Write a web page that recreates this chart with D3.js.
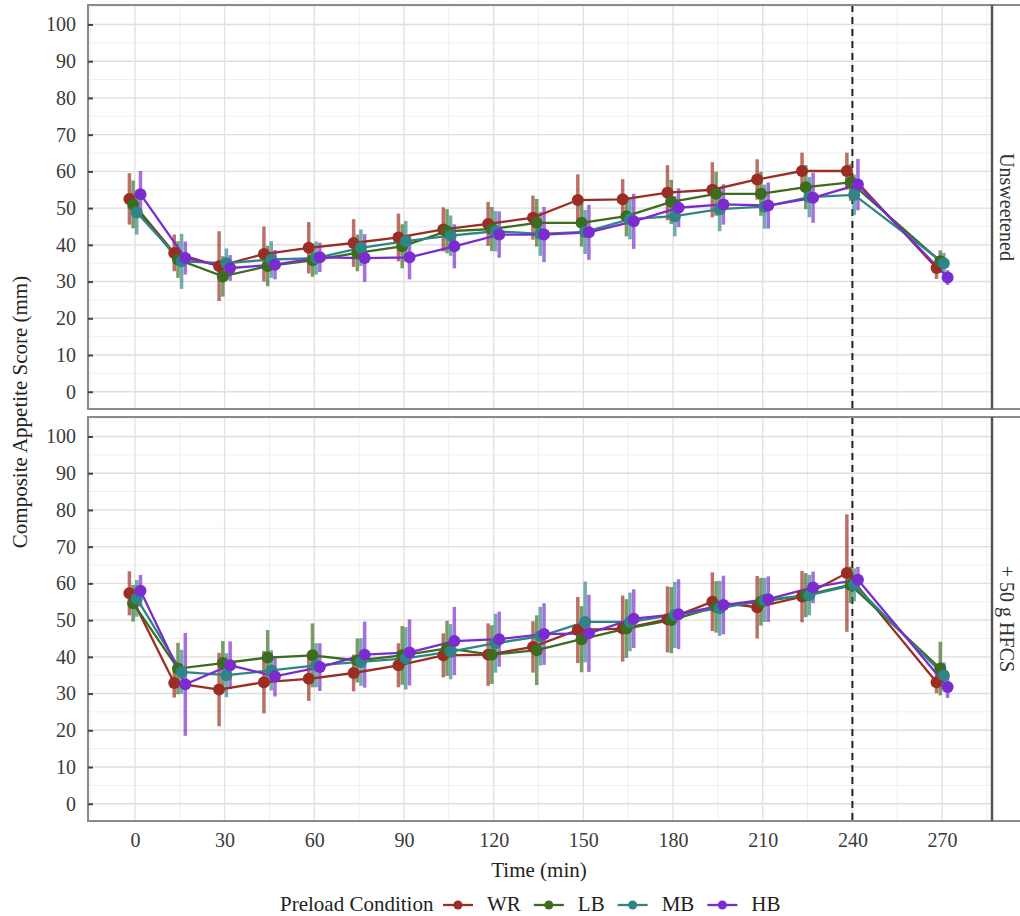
<!DOCTYPE html>
<html>
<head>
<meta charset="utf-8">
<script src="https://cdn.jsdelivr.net/npm/d3@7"></script>
<style>
  body { margin: 0; background: #fff; }
  svg { display: block; font-family: "Liberation Serif", "DejaVu Serif", serif; }
</style>
</head>
<body>
<div id="chart"></div>
<script>
// time points (min)
const times = [0, 15, 30, 45, 60, 75, 90, 105, 120, 135, 150, 165, 180, 195, 210, 225, 240, 270];
const xTicks = [0, 30, 60, 90, 120, 150, 180, 210, 240, 270];
const yTicks = [0, 10, 20, 30, 40, 50, 60, 70, 80, 90, 100];
const conditions = ['WR', 'LB', 'MB', 'HB'];
const panelLabels = ['Unsweetened', '+ 50 g HFCS'];

// Unsweetened panel: means and error half-widths
const wrUnsw    = [52.5, 37.8, 34.2, 37.5, 39.2, 40.5, 42.0, 44.2, 45.7, 47.4, 52.2, 52.4, 54.2, 55.0, 57.8, 60.1, 60.1, 33.7];
const wrUnswErr = [7.0, 5.0, 9.5, 7.5, 7.0, 6.5, 6.5, 6.0, 6.0, 6.0, 7.0, 5.5, 7.5, 7.5, 5.5, 5.0, 5.0, 3.0];
const lbUnsw    = [51.0, 36.0, 31.4, 34.2, 35.8, 37.8, 39.6, 43.7, 44.3, 46.0, 46.0, 47.8, 51.7, 53.9, 53.9, 55.7, 57.0, 35.5];
const lbUnswErr = [6.5, 5.0, 5.5, 5.5, 4.5, 5.0, 6.0, 6.0, 6.0, 6.5, 6.5, 5.5, 6.0, 6.0, 6.0, 6.0, 5.0, 3.0];
const mbUnsw    = [48.8, 35.5, 35.0, 36.0, 36.4, 39.2, 41.0, 42.5, 43.7, 43.0, 43.5, 47.0, 47.8, 49.7, 50.4, 53.0, 53.6, 35.0];
const mbUnswErr = [6.0, 7.5, 4.0, 5.0, 4.5, 5.0, 5.5, 5.5, 5.5, 6.0, 6.0, 5.5, 5.5, 6.0, 6.0, 5.5, 5.5, 2.8];
const hbUnsw    = [53.8, 36.4, 33.7, 34.6, 36.6, 36.4, 36.6, 39.6, 42.8, 42.8, 43.4, 46.4, 50.1, 51.0, 50.7, 52.8, 56.4, 31.1];
const hbUnswErr = [6.3, 4.5, 3.5, 4.0, 4.0, 6.5, 6.0, 6.0, 6.3, 7.5, 7.5, 7.5, 5.3, 5.5, 6.3, 6.8, 7.0, 2.0];

// + 50 g HFCS panel
const wrHfcs    = [57.3, 32.9, 31.1, 33.1, 34.0, 35.6, 37.7, 40.4, 40.6, 42.7, 47.3, 47.7, 50.2, 55.0, 53.5, 56.4, 62.8, 33.1];
const wrHfcsErr = [6.0, 4.0, 10.0, 8.5, 6.0, 5.0, 6.0, 6.0, 8.5, 7.0, 9.0, 9.0, 9.0, 8.0, 8.5, 7.0, 16.0, 3.0];
const lbHfcs    = [54.6, 36.8, 38.3, 39.8, 40.4, 39.0, 40.4, 42.3, 40.6, 41.8, 44.8, 47.7, 50.0, 53.6, 55.0, 56.8, 59.6, 36.8];
const lbHfcsErr = [5.0, 7.0, 6.0, 7.5, 8.7, 6.0, 8.0, 7.5, 8.0, 9.5, 9.0, 8.0, 9.0, 7.0, 6.5, 6.0, 5.0, 7.3];
const mbHfcs    = [55.9, 35.9, 35.0, 36.3, 37.7, 38.6, 39.6, 41.4, 43.7, 45.6, 49.5, 49.5, 51.4, 53.2, 55.5, 56.8, 59.6, 35.0];
const mbHfcsErr = [5.0, 6.0, 6.0, 5.5, 6.0, 6.5, 8.5, 7.5, 8.0, 8.0, 11.0, 8.0, 9.0, 7.5, 6.0, 5.5, 4.5, 3.5];
const hbHfcs    = [58.0, 32.5, 37.7, 34.7, 37.2, 40.6, 41.2, 44.3, 44.8, 46.2, 46.4, 50.4, 51.6, 54.1, 55.7, 58.9, 61.0, 31.8];
const hbHfcsErr = [4.3, 14.0, 6.5, 5.5, 6.5, 9.0, 9.0, 9.3, 7.5, 8.4, 10.5, 8.0, 9.5, 8.0, 6.2, 4.3, 3.5, 3.0];

const colors = { WR: '#9a2e24', LB: '#3d6b1f', MB: '#2f8585', HB: '#7b2ccf' };
const dodge  = { WR: -1.85, LB: -0.6, MB: 0.6, HB: 1.85 };

const panels = [
  { label: panelLabels[0], means: [wrUnsw, lbUnsw, mbUnsw, hbUnsw], errs: [wrUnswErr, lbUnswErr, mbUnswErr, hbUnswErr], top: 5 },
  { label: panelLabels[1], means: [wrHfcs, lbHfcs, mbHfcs, hbHfcs], errs: [wrHfcsErr, lbHfcsErr, mbHfcsErr, hbHfcsErr], top: 417 },
];

const W = 1020, H = 916;
const left = 88, right = 992, panelH = 404;
const serif = '"Liberation Serif", "DejaVu Serif", serif';

const svg = d3.select('#chart').append('svg')
  .attr('width', W).attr('height', H);

const x = d3.scaleLinear().domain([-15.7, 286.7]).range([left, right]);

panels.forEach((p, pi) => {
  const y = d3.scaleLinear().domain([-4.7, 105.3]).range([p.top + panelH, p.top]);
  const g = svg.append('g');

  // grid
  const minorY = d3.range(-5, 106, 5).filter(v => v % 10 !== 0 && v > -4.7);
  const minorX = xTicks.map(t => t - 15).concat([285]).filter(v => v > -15.7 && v < 286.7);
  g.append('g').selectAll('line').data(minorY).enter().append('line')
    .attr('x1', left).attr('x2', right)
    .attr('y1', d => y(d)).attr('y2', d => y(d))
    .attr('stroke', '#efefef').attr('stroke-width', 1);
  g.append('g').selectAll('line').data(minorX).enter().append('line')
    .attr('x1', d => x(d)).attr('x2', d => x(d))
    .attr('y1', p.top).attr('y2', p.top + panelH)
    .attr('stroke', '#efefef').attr('stroke-width', 1);
  g.append('g').selectAll('line').data(yTicks).enter().append('line')
    .attr('x1', left).attr('x2', right)
    .attr('y1', d => y(d)).attr('y2', d => y(d))
    .attr('stroke', '#dedede').attr('stroke-width', 1.4);
  g.append('g').selectAll('line').data(xTicks).enter().append('line')
    .attr('x1', d => x(d)).attr('x2', d => x(d))
    .attr('y1', p.top).attr('y2', p.top + panelH)
    .attr('stroke', '#e2e2e2').attr('stroke-width', 1.4);

  // dashed reference line at 240 min
  g.append('line')
    .attr('x1', x(240)).attr('x2', x(240))
    .attr('y1', p.top).attr('y2', p.top + panelH)
    .attr('stroke', '#222').attr('stroke-width', 2)
    .attr('stroke-dasharray', '7,5');

  const rows = conditions.map((c, ci) => times.map((t, ti) => ({
    cond: c, t, v: p.means[ci][ti], e: p.errs[ci][ti]
  })));

  // error bars
  g.append('g').selectAll('g').data(rows).enter().append('g')
    .selectAll('line').data(d => d).enter().append('line')
      .attr('x1', d => x(d.t + dodge[d.cond])).attr('x2', d => x(d.t + dodge[d.cond]))
      .attr('y1', d => y(d.v - d.e)).attr('y2', d => y(d.v + d.e))
      .attr('stroke', d => colors[d.cond])
      .attr('stroke-width', 3.5)
      .attr('stroke-opacity', 0.68);

  // lines
  const line = d3.line()
    .x(d => x(d.t + dodge[d.cond]))
    .y(d => y(d.v));
  g.append('g').selectAll('path').data(rows).enter().append('path')
    .attr('d', line)
    .attr('fill', 'none')
    .attr('stroke', d => colors[d[0].cond])
    .attr('stroke-width', 2.3);

  // points
  g.append('g').selectAll('g').data(rows).enter().append('g')
    .selectAll('circle').data(d => d).enter().append('circle')
      .attr('cx', d => x(d.t + dodge[d.cond]))
      .attr('cy', d => y(d.v))
      .attr('r', 6)
      .attr('fill', d => colors[d.cond]);

  // panel frame + strip
  g.append('rect')
    .attr('x', left).attr('y', p.top)
    .attr('width', right - left).attr('height', panelH)
    .attr('fill', 'none').attr('stroke', '#8a8a8a').attr('stroke-width', 2);
  g.append('rect')
    .attr('x', right).attr('y', p.top)
    .attr('width', 40).attr('height', panelH)
    .attr('fill', 'none').attr('stroke', '#8a8a8a').attr('stroke-width', 2);
  g.append('line')
    .attr('x1', right).attr('x2', right)
    .attr('y1', p.top).attr('y2', p.top + panelH)
    .attr('stroke', '#555').attr('stroke-width', 2.5);
  g.append('g')
    .attr('transform', `translate(1007,${p.top + panelH / 2}) rotate(90)`)
    .append('text')
      .text(p.label)
      .attr('text-anchor', 'middle')
      .attr('dy', '0.35em')
      .attr('font-size', '20px')
      .attr('fill', '#333');

  // y axis
  const yAxis = d3.axisLeft(y).tickValues(yTicks).tickSize(-5).tickPadding(12);
  const ya = g.append('g').attr('transform', `translate(${left},0)`).call(yAxis)
    .attr('font-family', serif);
  ya.select('.domain').remove();
  ya.selectAll('line').attr('stroke', '#444').attr('stroke-width', 2);
  ya.selectAll('text').attr('font-size', '20px').attr('fill', '#3a3a3a');

  if (pi === panels.length - 1) {
    const xAxis = d3.axisBottom(x).tickValues(xTicks).tickSize(0).tickPadding(12);
    const xa = g.append('g').attr('transform', `translate(0,${p.top + panelH})`).call(xAxis)
      .attr('font-family', serif);
    xa.select('.domain').remove();
    xa.selectAll('text').attr('font-size', '20px').attr('fill', '#3a3a3a');
  }
});

// axis titles
svg.append('text')
  .text('Time (min)')
  .attr('x', (left + right) / 2 - 1).attr('y', 877)
  .attr('text-anchor', 'middle')
  .attr('font-size', '21px').attr('fill', '#222');

svg.append('g')
  .attr('transform', 'translate(20,412) rotate(-90)')
  .append('text')
    .text('Composite Appetite Score (mm)')
    .attr('text-anchor', 'middle')
    .attr('dy', '0.35em')
    .attr('font-size', '21px').attr('fill', '#222');

// legend
const legend = svg.append('g').attr('transform', 'translate(0,911)');
legend.append('text')
  .text('Preload Condition')
  .attr('x', 280)
  .attr('font-size', '21px').attr('fill', '#222');

let lx = 443;
conditions.forEach(c => {
  legend.append('line')
    .attr('x1', lx).attr('x2', lx + 30)
    .attr('y1', -6).attr('y2', -6)
    .attr('stroke', colors[c]).attr('stroke-width', 2.3);
  legend.append('circle')
    .attr('cx', lx + 15).attr('cy', -6).attr('r', 4.5)
    .attr('fill', colors[c]);
  const t = legend.append('text')
    .text(c)
    .attr('x', lx + 44)
    .attr('font-size', '21px').attr('fill', '#222');
  lx = lx + 44 + t.node().getComputedTextLength() + 13;
});
</script>
</body>
</html>
